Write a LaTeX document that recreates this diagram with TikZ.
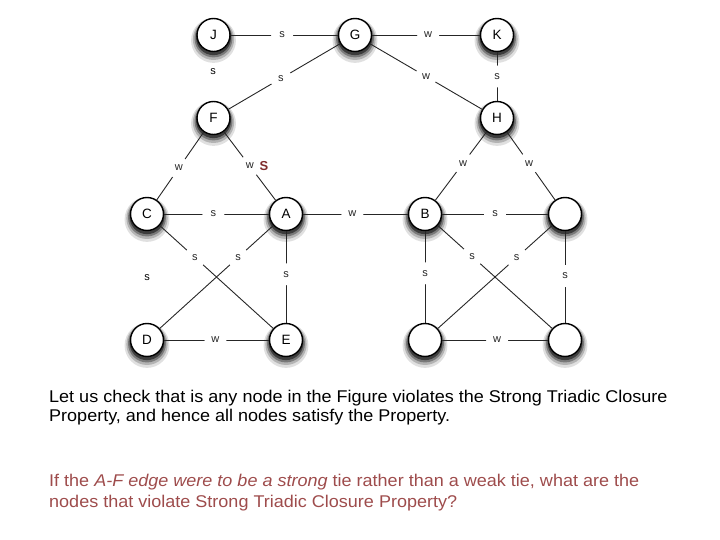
\documentclass[tikz,border=0pt]{standalone}
\usepackage{fontspec}
\setmainfont{Liberation Sans}
\newfontfamily\wordfont[FakeStretch=1.06]{Liberation Sans}
\usepackage{xcolor}
\usetikzlibrary{shadows}
\definecolor{qred}{RGB}{158,76,76}
\definecolor{sred}{RGB}{128,44,44}

\begin{document}
\begin{tikzpicture}[x=1pt,y=-1pt,line join=round,
  blur/.style={general shadow={shadow scale=1.36,shadow yshift=-4pt,fill=black,opacity=0.12},
    general shadow={shadow scale=1.25,shadow yshift=-3.5pt,fill=black,opacity=0.2},
    general shadow={shadow scale=1.15,shadow yshift=-3pt,fill=black,opacity=0.32},
    general shadow={shadow scale=1.06,shadow yshift=-2.5pt,fill=black,opacity=0.5}},
  vtx/.style={circle,draw=black,line width=1.4pt,fill=white,minimum size=33pt,inner sep=0pt,
    font=\fontsize{13.5}{16}\selectfont,blur},
  lbl/.style={circle,fill=white,inner sep=0pt,minimum size=22pt,font=\fontsize{11}{13}\selectfont},
  tie/.style={line width=0.9pt,black!85},
  txt/.style={anchor=base west,inner sep=0pt,font=\wordfont\fontsize{17}{20}\selectfont}]
  \useasboundingbox (0,0) rectangle (720,540);
  % vertices
  \node[vtx] (J) at (213.5,35) {J};
  \node[vtx] (G) at (355,35) {G};
  \node[vtx] (K) at (497,35) {K};
  \node[vtx] (F) at (213.5,118) {F};
  \node[vtx] (H) at (497,118) {H};
  \node[vtx] (C) at (147,214) {C};
  \node[vtx] (A) at (286,214) {A};
  \node[vtx] (B) at (425,214) {B};
  \node[vtx] (N1) at (565,214) {};
  \node[vtx] (D) at (147,340) {D};
  \node[vtx] (E) at (286,340) {E};
  \node[vtx] (N2) at (425,340) {};
  \node[vtx] (N3) at (565,340) {};
  % ties
  \draw[tie] (J) -- node[lbl,pos=0.48] {s} (G);
  \draw[tie] (G) -- node[lbl,pos=0.52] {w} (K);
  \draw[tie] (G) -- node[lbl,pos=0.53] {s} (F);
  \draw[tie] (G) -- node[lbl] {w} (H);
  \draw[tie] (K) -- node[lbl] {s} (H);
  \draw[tie] (F) -- node[lbl,pos=0.53] {w} (C);
  \draw[tie] (F) -- node[lbl,pos=0.5] (FA) {w} (A);
  \draw[tie] (H) -- node[lbl,pos=0.46] {w} (B);
  \draw[tie] (H) -- node[lbl,pos=0.46] {w} (N1);
  \draw[tie] (C) -- node[lbl,pos=0.47] {s} (A);
  \draw[tie] (A) -- node[lbl,pos=0.47] {w} (B);
  \draw[tie] (B) -- node[lbl,pos=0.5] {s} (N1);
  \draw[tie] (C) -- node[lbl,pos=0.31] {s} (E);
  \draw[tie] (A) -- node[lbl,pos=0.31] {s} (D);
  \draw[tie] (A) -- node[lbl,pos=0.47] {s} (E);
  \draw[tie] (D) -- node[lbl,pos=0.49] {w} (E);
  \draw[tie] (B) -- node[lbl,pos=0.3] {s} (N3);
  \draw[tie] (N1) -- node[lbl,pos=0.31] {s} (N2);
  \draw[tie] (B) -- node[lbl,pos=0.46] {s} (N2);
  \draw[tie] (N1) -- node[lbl,pos=0.49] {s} (N3);
  \draw[tie] (N2) -- node[lbl,pos=0.52] {w} (N3);
  % loose labels
  \node[lbl,fill=none] (sJF) at (213,72) {s};
  \node[lbl,fill=none] (sCD) at (147,278) {s};
  \node[sred,font=\fontsize{13}{15}\selectfont\bfseries,inner sep=0pt] (FS) at (264,166) {S};
  % text
  \node[txt] (msg1) at (49,402) {Let us check that is any node in the Figure violates the Strong Triadic Closure};
  \node[txt] (msg2) at (49,421.5) {Property, and hence all nodes satisfy the Property.};
  \node[txt,qred] (ask1) at (49,486) {If the \textit{A-F edge were to be a strong} tie rather than a weak tie, what are the};
  \node[txt,qred] (ask2) at (49,507.5) {nodes that violate Strong Triadic Closure Property?};
\end{tikzpicture}
\end{document}
